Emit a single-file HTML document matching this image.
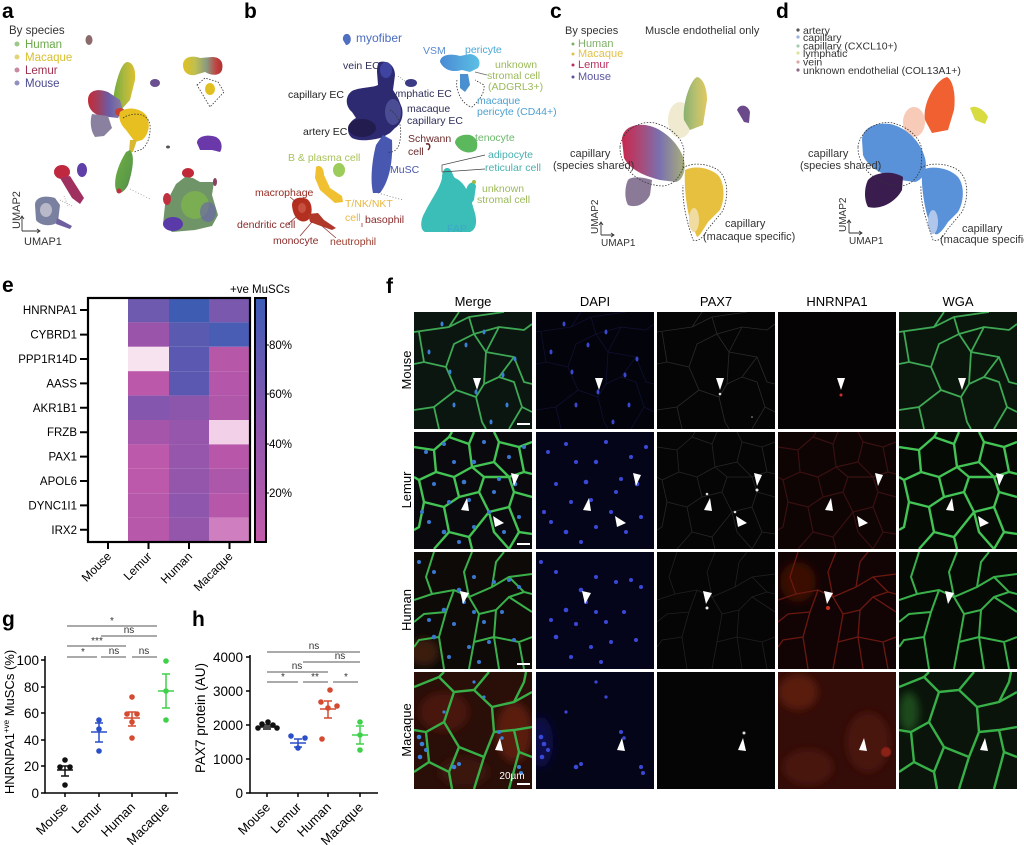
<!DOCTYPE html>
<html><head><meta charset="utf-8">
<style>
html,body{margin:0;padding:0;background:#fff;}
svg{display:block;font-family:"Liberation Sans",Arial,sans-serif;}
</style></head><body>
<svg width="1024" height="845" viewBox="0 0 1024 845" xmlns="http://www.w3.org/2000/svg">
<defs>
<linearGradient id="gArm" x1="0" x2="1" y1="0" y2="0"><stop offset="0" stop-color="#6aa83a"/><stop offset="0.5" stop-color="#a8b840"/><stop offset="1" stop-color="#dcc030"/></linearGradient>
<linearGradient id="gLob" x1="0" x2="1" y1="0" y2="0"><stop offset="0" stop-color="#c42a38"/><stop offset="0.3" stop-color="#a04060"/><stop offset="0.6" stop-color="#6a5ca8"/><stop offset="1" stop-color="#8a80a0"/></linearGradient>
<linearGradient id="gTR" x1="0" x2="1" y1="0" y2="0"><stop offset="0" stop-color="#e0c020"/><stop offset="0.3" stop-color="#c0c050"/><stop offset="0.6" stop-color="#8a9a80"/><stop offset="0.85" stop-color="#c04040"/><stop offset="1" stop-color="#b03030"/></linearGradient>
<linearGradient id="gLow" x1="0" x2="1" y1="0" y2="1"><stop offset="0" stop-color="#70b040"/><stop offset="0.7" stop-color="#5a9a48"/><stop offset="1" stop-color="#7a3a70"/></linearGradient>
<linearGradient id="gVSM" x1="0" x2="1" y1="0" y2="0"><stop offset="0" stop-color="#4a8ad4"/><stop offset="1" stop-color="#5cc0e4"/></linearGradient>
<linearGradient id="gCarm" x1="0" x2="1" y1="0" y2="0"><stop offset="0" stop-color="#88b070"/><stop offset="0.5" stop-color="#b8c070"/><stop offset="1" stop-color="#e0c860"/></linearGradient>
<linearGradient id="gCsh" x1="0" x2="1" y1="0" y2="0"><stop offset="0" stop-color="#c8284e"/><stop offset="0.3" stop-color="#a84a78"/><stop offset="0.6" stop-color="#7a70b0"/><stop offset="1" stop-color="#a8b078"/></linearGradient>
<linearGradient id="gCbar" x1="0" x2="0" y1="0" y2="1"><stop offset="0" stop-color="#3b5cb6"/><stop offset="0.5" stop-color="#8a56ad"/><stop offset="1" stop-color="#c25aa9"/></linearGradient>
<clipPath id="pc"><rect x="0" y="0" width="118" height="117"/></clipPath>
<filter id="bl" x="-50%" y="-50%" width="200%" height="200%"><feGaussianBlur stdDeviation="4"/></filter>
<filter id="bl1"><feGaussianBlur stdDeviation="0.6"/></filter>

<!-- networks -->
<path id="nM" fill="none" d="M0,20 L35,15 L45,0 M35,15 L55,5 L90,0 M55,5 L60,22 L85,15 L110,18 L118,12 M60,22 L40,32 L32,55 L42,78 L62,85 L70,72 L72,40 L60,22 M72,40 L85,15 M72,40 L100,45 L110,70 L118,72 M70,72 L85,65 L100,70 L108,95 L95,117 M62,85 L68,110 L72,117 M85,65 L100,45 M42,78 L20,95 L0,98 M32,55 L10,50 L0,52 M20,95 L25,117 M108,95 L118,100 M10,50 L5,20"/>
<path id="nL" fill="none" d="M0,15 L20,18 L35,5 L38,0 M20,18 L22,40 L5,48 L0,45 M35,5 L55,12 L60,0 M55,12 L58,35 L40,45 L22,40 M58,35 L80,30 L85,10 L80,0 M85,10 L105,15 L118,10 M80,30 L95,45 L110,40 L118,42 M105,15 L110,40 M40,45 L45,65 L30,75 L10,70 L5,48 M45,65 L65,60 L70,45 L58,35 M70,45 L95,45 M65,60 L75,80 L95,75 L100,60 L95,45 M100,60 L118,65 M10,70 L5,95 L0,98 M30,75 L35,100 L20,117 M35,100 L55,105 L75,80 M55,105 L58,117 M95,75 L105,100 L118,102 M105,100 L95,117 M75,80 L80,100 L95,117"/>
<path id="nH" fill="none" d="M0,48 L18,42 L40,38 L55,45 L78,35 L95,25 L118,22 M18,42 L12,25 L20,0 M55,45 L50,20 L58,0 M78,35 L82,10 L90,0 M95,25 L110,40 L118,42 M40,38 L32,60 L25,85 L30,117 M55,45 L65,62 L60,90 L55,117 M32,60 L10,62 L0,70 M65,62 L82,58 L95,45 L110,40 M82,58 L80,85 L85,117 M95,45 L118,60 M80,85 L105,90 L118,85 M25,85 L5,88 L0,95 M60,90 L80,85 M105,90 L110,117"/>
<path id="nQ" fill="none" d="M0,15 L25,5 L30,0 M25,5 L40,20 L60,18 L75,0 M60,18 L78,35 L100,30 L118,20 M100,30 L110,10 L112,0 M40,20 L30,50 L12,60 L0,58 M78,35 L80,60 L70,85 L60,117 M30,50 L45,75 L70,85 M80,60 L100,58 L118,55 M100,58 L105,80 L95,117 M12,60 L15,90 L0,100 M15,90 L35,100 L45,75 M35,100 L38,117 M105,80 L118,85"/>
<!-- nuclei -->
<g id="dM"><ellipse cx="28" cy="12" rx="1.5" ry="2.5"/><ellipse cx="52" cy="33" rx="1.5" ry="2.5"/><ellipse cx="36" cy="60" rx="1.5" ry="2.5"/><ellipse cx="89" cy="63" rx="1.5" ry="2.5"/><ellipse cx="62" cy="80" rx="1.5" ry="2.5"/><ellipse cx="40" cy="93" rx="1.5" ry="2.5"/><ellipse cx="93" cy="93" rx="1.5" ry="2.5"/><ellipse cx="77" cy="110" rx="1.5" ry="2.5"/><ellipse cx="101" cy="47" rx="1.5" ry="2.5"/><ellipse cx="15" cy="40" rx="1.5" ry="2.5"/><ellipse cx="70" cy="20" rx="1.5" ry="2.5"/></g>
<g id="dL"><circle cx="12" cy="20" r="2"/><circle cx="30" cy="12" r="2"/><circle cx="60" cy="30" r="2.2"/><circle cx="95" cy="25" r="2"/><circle cx="20" cy="52" r="2"/><circle cx="50" cy="50" r="2.3"/><circle cx="85" cy="47" r="2"/><circle cx="101" cy="52" r="2.3"/><circle cx="35" cy="70" r="2"/><circle cx="55" cy="68" r="2"/><circle cx="75" cy="80" r="2"/><circle cx="15" cy="90" r="2"/><circle cx="30" cy="100" r="2.3"/><circle cx="60" cy="95" r="2"/><circle cx="90" cy="100" r="2"/><circle cx="105" cy="85" r="2"/><circle cx="45" cy="110" r="2"/><circle cx="80" cy="60" r="2"/><circle cx="70" cy="10" r="2"/><circle cx="110" cy="15" r="2"/><circle cx="8" cy="80" r="2"/><circle cx="40" cy="30" r="2"/></g>
<g id="dH"><circle cx="5" cy="10" r="2"/><circle cx="20" cy="20" r="2"/><circle cx="45" cy="38" r="2.3"/><circle cx="60" cy="25" r="2"/><circle cx="80" cy="30" r="2"/><circle cx="95" cy="28" r="2"/><circle cx="105" cy="35" r="2"/><circle cx="30" cy="58" r="2.3"/><circle cx="50" cy="50" r="2"/><circle cx="15" cy="68" r="2"/><circle cx="40" cy="72" r="2"/><circle cx="70" cy="70" r="2"/><circle cx="20" cy="85" r="2.3"/><circle cx="55" cy="95" r="2"/><circle cx="75" cy="90" r="2"/><circle cx="100" cy="88" r="2"/><circle cx="35" cy="105" r="2"/><circle cx="65" cy="110" r="2"/><circle cx="60" cy="60" r="2"/><circle cx="88" cy="60" r="2"/></g>
<g id="dQ"><circle cx="5" cy="65" r="2.3"/><circle cx="8" cy="72" r="2.3"/><circle cx="12" cy="78" r="2"/><circle cx="6" cy="85" r="2.3"/><circle cx="40" cy="95" r="2.3"/><circle cx="45" cy="92" r="2"/><circle cx="85" cy="60" r="2"/><circle cx="88" cy="66" r="1.8"/><circle cx="105" cy="95" r="2"/><circle cx="107" cy="101" r="2"/><circle cx="70" cy="25" r="1.6"/><circle cx="30" cy="40" r="1.6"/><circle cx="60" cy="10" r="1.6"/></g>
<!-- arrows -->
<g id="aM"><polygon points="59,66 67,66 63,78"/></g>
<g id="aL"><polygon points="97,41 105,43 100,54"/><polygon points="47,78 55,79 53,66"/><polygon points="79,84 81,95 90,91"/></g>
<g id="aH"><polygon points="46,39 55,41 49,52"/></g>
<g id="aQ"><polygon points="81,78 89,79 86,66"/></g>
</defs>

<rect width="1024" height="845" fill="#fff"/>

<!-- panel letters -->
<g font-weight="bold" font-size="21" fill="#000">
<text x="2" y="18">a</text><text x="244" y="18">b</text><text x="550" y="18">c</text><text x="776" y="18">d</text>
<text x="2" y="292">e</text><text x="386" y="293">f</text><text x="2" y="626">g</text><text x="192" y="626">h</text>
</g>

<!-- ===== PANEL A ===== -->
<g font-size="11.5">
<text x="9" y="34" fill="#333">By species</text>
<circle cx="17" cy="44" r="2.5" fill="#9cc88a"/><text x="25" y="48" fill="#6aaa4a">Human</text>
<circle cx="17" cy="57" r="2.5" fill="#e2d47a"/><text x="25" y="61" fill="#d8c030">Macaque</text>
<circle cx="17" cy="70" r="2.5" fill="#c88aa0"/><text x="25" y="74" fill="#a03050">Lemur</text>
<circle cx="17" cy="83" r="2.5" fill="#9090c0"/><text x="25" y="87" fill="#4a4a90">Mouse</text>
</g>
<ellipse cx="89" cy="40" rx="3.5" ry="5" fill="#8a6a6a"/>
<path d="M127,62 C133,62 136,70 135,80 L130,100 L121,110 L112,105 L115,88 C118,75 122,63 127,62 Z" fill="url(#gArm)"/>
<path d="M88,100 C88,90 98,88 108,92 L120,100 L123,110 L118,118 L100,116 C92,113 88,108 88,100 Z" fill="url(#gLob)"/>
<path d="M92,114 L108,116 L112,128 L104,136 L95,137 C90,130 90,120 92,114 Z" fill="#8a80a0"/>
<ellipse cx="120" cy="112" rx="5" ry="4" fill="#c84030"/>
<path d="M120,112 C128,106 140,108 146,115 C151,123 149,135 142,140 L135,142 L126,130 C120,124 118,117 120,112 Z" fill="#e8bf20"/>
<path d="M130,140 L137,140 L133,152 L129,152 Z" fill="#d8b830"/>
<path d="M130,150 C135,155 133,170 128,185 C124,193 118,195 116,190 C113,180 118,165 126,152 Z" fill="url(#gLow)"/>
<circle cx="119" cy="191" r="2.5" fill="#c03040"/>
<path d="M123,118 C132,112 148,112 150,125 C151,138 146,148 140,150 L134,152" fill="none" stroke="#333" stroke-width="0.8" stroke-dasharray="1.5,1.5"/>
<path d="M130,189 L150,199" stroke="#999" stroke-width="0.8" stroke-dasharray="1,2"/>
<ellipse cx="155" cy="83" rx="5" ry="4" fill="#6a5090"/>
<path d="M183,65 C183,57 192,55 200,58 L212,57 C220,57 224,62 222,70 C220,76 212,76 205,72 L195,75 C188,76 183,72 183,65 Z" fill="url(#gTR)"/>
<path d="M197,85 L205,78 L218,82 L224,92 L210,107 Z" fill="none" stroke="#333" stroke-width="0.8" stroke-dasharray="1.5,1.5"/>
<ellipse cx="210" cy="89" rx="5" ry="6" fill="#e0c020"/>
<path d="M197,143 C197,136 208,134 216,137 C222,140 223,148 220,152 L212,150 L200,150 Z" fill="#6a38a8"/>
<ellipse cx="168" cy="147" rx="2" ry="1.5" fill="#555"/>
<ellipse cx="188" cy="173" rx="6" ry="5" fill="#c02838"/>
<path d="M176,184 L185,177 L193,178 L200,182 L214,182 L212,195 L218,215 L212,226 L195,230 L172,232 L163,224 L165,205 Z" fill="#6f9468"/>
<ellipse cx="195" cy="205" rx="14" ry="14" fill="#80b848" opacity="0.7"/>
<ellipse cx="208" cy="212" rx="8" ry="10" fill="#6a60b0" opacity="0.6"/>
<ellipse cx="173" cy="224" rx="10" ry="7" fill="#5a3aa8"/>
<ellipse cx="167" cy="199" rx="4" ry="6" fill="#c03040"/>
<ellipse cx="215" cy="182" rx="2" ry="4" fill="#8a4060"/>
<ellipse cx="62" cy="172" rx="8" ry="7" fill="#c02840"/>
<path d="M60,178 L70,176 L84,198 L80,204 L72,198 Z" fill="#a03060"/>
<ellipse cx="82" cy="170" rx="5" ry="7" fill="#6040a8"/>
<path d="M35,205 C35,197 45,195 55,198 L60,205 L58,222 C52,227 40,226 36,220 Z" fill="#7a80a0"/>
<ellipse cx="46" cy="210" rx="6" ry="7" fill="#b8b8c8"/>
<path d="M57,218 L72,226 L70,229 L56,224 Z" fill="#7060a0"/>
<path d="M60,200 L72,206 M64,196 L68,206" stroke="#888" stroke-width="0.7" stroke-dasharray="1,1.5"/>
<!-- umap axes a -->
<g stroke="#333" stroke-width="0.9" fill="none"><path d="M22,231 L22,216 M20,219 L22,216 L24,219 M22,231 L40,231 M37,229 L40,231 L37,233"/></g>
<text transform="translate(20,229) rotate(-90)" font-size="11" fill="#333">UMAP2</text>
<text x="24" y="245" font-size="11" fill="#333">UMAP1</text>

<!-- ===== PANEL B ===== -->
<path d="M343,40 C342,34 348,32 350,36 C352,40 350,45 346,45 Z" fill="#4f6fc0"/>
<path d="M380,62 C388,60 395,66 395,75 L393,90 L398,98 L402,108 C404,118 400,125 395,128 L390,133 L383,137 C375,140 360,142 352,138 C345,132 348,122 356,118 L352,112 C345,106 345,96 352,91 C360,87 372,88 378,85 L377,72 C377,66 378,62 380,62 Z" fill="#2e2a72"/>
<ellipse cx="386" cy="70" rx="6" ry="8" fill="#3e44a0"/>
<ellipse cx="362" cy="128" rx="14" ry="9" fill="#231c4f"/>
<ellipse cx="393" cy="112" rx="8" ry="13" fill="#4a4c94"/>
<path d="M383,135 L392,140 C393,160 390,180 380,193 L373,193 C370,180 372,160 376,145 Z" fill="#4858b0"/>
<path d="M378,193 L403,200" stroke="#777" stroke-width="0.8" stroke-dasharray="1,2"/>
<ellipse cx="411" cy="83" rx="6" ry="4" fill="#3a3a85"/>
<path d="M398,76 L406,82" stroke="#777" stroke-width="0.7" stroke-dasharray="1,1.5"/>
<path d="M390,110 C400,115 403,130 399,145 C397,150 393,153 388,152" fill="none" stroke="#333" stroke-width="0.8" stroke-dasharray="1.5,1.5"/>
<path d="M426,144 C430,143 431,147 428,150" stroke="#6d2a2a" stroke-width="1.5" fill="none"/>
<path d="M440,62 C440,55 450,53 460,56 L470,54 C478,55 482,62 478,68 L470,72 L462,70 C455,72 445,72 440,62 Z" fill="url(#gVSM)"/>
<path d="M460,74 L468,74 L470,85 L465,92 L460,88 Z" fill="#4a90d0"/>
<path d="M457,80 C455,90 462,105 472,107 C480,100 485,92 484,85 L475,80" fill="none" stroke="#333" stroke-width="0.8" stroke-dasharray="1.5,1.5"/>
<path d="M475,72 L487,75" stroke="#666" stroke-width="0.7"/>
<path d="M455,143 C455,137 462,134 470,135 C477,137 479,145 476,150 C472,154 460,154 455,143 Z" fill="#5cb85c"/>
<path d="M447,168 C452,168 452,175 455,178 C465,182 470,195 474,210 C478,222 476,230 470,232 L425,232 C420,230 420,220 425,212 C432,198 440,188 442,178 C442,172 444,168 447,168 Z" fill="#3bbdb8"/>
<path d="M466,190 C468,182 474,180 476,186 L474,200 L470,205 Z" fill="#3bbdb8"/>
<circle cx="474" cy="182" r="2" fill="#a0b840"/>
<path d="M442,172 L442,165 L485,155 M442,172 L485,169" stroke="#444" stroke-width="0.7" fill="none"/>
<ellipse cx="339" cy="170" rx="6" ry="7" fill="#9ccc5a"/>
<path d="M316,167 C320,164 324,168 324,175 L330,188 L342,196 L343,202 L335,203 L320,190 L315,178 Z" fill="#f0c030"/>
<path d="M292,205 C292,198 300,196 307,199 C313,203 313,215 308,220 C302,224 293,220 292,205 Z" fill="#b33020"/>
<ellipse cx="302" cy="208" rx="4" ry="5" fill="#d06050" opacity="0.7"/>
<path d="M308,214 L318,213 L324,220 L336,228 L332,230 L318,225 L310,222 Z" fill="#b03828"/>
<g stroke="#8a2a2a" stroke-width="0.7" fill="none"><path d="M290,197 L296,202 M288,224 L296,217 M300,236 L312,222 M336,238 L322,226 M362,223 L362,227"/></g>
<g font-size="10.5">
<text x="356" y="42" font-size="12" fill="#4a6cc0">myofiber</text>
<text x="423" y="54" fill="#5a8cd0">VSM</text>
<text x="465" y="53" fill="#4aa8d8">pericyte</text>
<text x="495" y="68" fill="#9cba5a">unknown</text>
<text x="487" y="79" fill="#9cba5a">stromal cell</text>
<text x="488" y="90" fill="#9cba5a">(ADGRL3+)</text>
<text x="477" y="104" fill="#4da0d0">macaque</text>
<text x="477" y="115" fill="#4da0d0">pericyte (CD44+)</text>
<text x="343" y="69" fill="#2e2e5a">vein EC</text>
<text x="288" y="98" fill="#222">capillary EC</text>
<text x="390" y="97" fill="#2e2e5a">lymphatic EC</text>
<text x="407" y="112" fill="#2e2e5a">macaque</text>
<text x="407" y="124" fill="#2e2e5a">capillary EC</text>
<text x="303" y="135" fill="#222">artery EC</text>
<text x="408" y="142" fill="#6d2a2a">Schwann</text>
<text x="408" y="155" fill="#6d2a2a">cell</text>
<text x="475" y="141" fill="#6cb86c">tenocyte</text>
<text x="488" y="158" fill="#4ab0b0">adipocyte</text>
<text x="485" y="171" fill="#4ab0b0">reticular cell</text>
<text x="482" y="192" fill="#9cba5a">unknown</text>
<text x="477" y="203" fill="#9cba5a">stromal cell</text>
<text x="447" y="232" fill="#3ea8c8">FAP</text>
<text x="390" y="173" fill="#4a55a8">MuSC</text>
<text x="288" y="161" fill="#a8c25a">B &amp; plasma cell</text>
<text x="345" y="207" fill="#e8b840">T/NK/NKT</text>
<text x="345" y="221" fill="#e8b840">cell</text>
<text x="365" y="223" fill="#8a2a2a">basophil</text>
<text x="255" y="196" fill="#962a20">macrophage</text>
<text x="237" y="228" fill="#8a2a2a">dendritic cell</text>
<text x="273" y="244" fill="#8a2a2a">monocyte</text>
<text x="330" y="245" fill="#9a3a2a">neutrophil</text>
</g>

<!-- ===== PANEL C ===== -->
<g font-size="11">
<text x="565" y="34" fill="#333">By species</text>
<text x="645" y="34" fill="#333">Muscle endothelial only</text>
<circle cx="573" cy="44" r="1.5" fill="#7fb069"/><text x="578" y="47" fill="#7fb069">Human</text>
<circle cx="573" cy="54" r="1.5" fill="#e0c24a"/><text x="578" y="57" fill="#e0c24a">Macaque</text>
<circle cx="573" cy="65" r="1.5" fill="#b83060"/><text x="578" y="68" fill="#b83060">Lemur</text>
<circle cx="573" cy="77" r="1.5" fill="#5a55a0"/><text x="578" y="80" fill="#5a55a0">Mouse</text>
</g>
<ellipse cx="680" cy="120" rx="12" ry="18" fill="#e6dcb0" opacity="0.6"/>
<path d="M697,77 C703,78 707,88 707,100 L703,125 L690,130 L684,120 C682,105 690,80 697,77 Z" fill="url(#gCarm)"/>
<path d="M622,140 C622,128 635,122 650,126 C665,130 680,145 684,160 C686,170 683,180 676,182 L660,180 C645,176 630,170 624,158 Z" fill="url(#gCsh)"/>
<path d="M628,180 C630,177 640,176 652,180 L650,195 C645,205 635,208 628,205 C624,198 625,186 628,180 Z" fill="#8a7a98"/>
<path d="M685,170 C695,165 710,168 718,175 C725,183 725,200 720,210 L708,222 C703,230 699,237 697,237 L690,220 C686,205 684,185 685,170 Z" fill="#e8c040"/>
<ellipse cx="694" cy="220" rx="5" ry="12" fill="#f0dca0"/>
<path d="M737,110 C740,103 748,105 750,112 L749,123 L744,122 Z" fill="#6a4a8a"/>
<path d="M620,147 C622,130 640,120 655,123 C670,127 682,137 684,150 L683,167 C680,178 672,186 662,186 C645,185 630,176 624,163 C621,158 620,152 620,147 Z" fill="none" stroke="#333" stroke-width="0.8" stroke-dasharray="1.5,1.5"/>
<path d="M683,168 C690,163 705,162 718,170 C730,180 728,200 722,212 L707,230 C703,238 698,242 693,240 C688,225 682,205 683,185" fill="none" stroke="#333" stroke-width="0.8" stroke-dasharray="1.5,1.5"/>
<g font-size="11" fill="#333">
<text x="570" y="157">capillary</text><text x="553" y="169">(species shared)</text>
<text x="725" y="227">capillary</text><text x="703" y="240">(macaque specific)</text>
</g>
<g stroke="#333" stroke-width="0.9" fill="none"><path d="M601,235 L601,222 M599,225 L601,222 L603,225 M601,235 L614,235 M611,233 L614,235 L611,237"/></g>
<text transform="translate(598,234) rotate(-90)" font-size="10" fill="#333">UMAP2</text>
<text x="601" y="246" font-size="10" fill="#333">UMAP1</text>

<!-- ===== PANEL D ===== -->
<g font-size="10.5" fill="#333">
<circle cx="798" cy="30" r="1.6" fill="#555"/><text x="803" y="34">artery</text>
<circle cx="798" cy="37" r="1.6" fill="#9db2dd"/><text x="803" y="41">capillary</text>
<circle cx="798" cy="46" r="1.6" fill="#a5cdb0"/><text x="803" y="49.5">capillary (CXCL10+)</text>
<circle cx="798" cy="53" r="1.6" fill="#dde49a"/><text x="803" y="57">lymphatic</text>
<circle cx="798" cy="62" r="1.6" fill="#dcaaa5"/><text x="803" y="65.5">vein</text>
<circle cx="798" cy="70" r="1.6" fill="#8d6a85"/><text x="803" y="74">unknown endothelial (COL13A1+)</text>
</g>
<ellipse cx="914" cy="122" rx="11" ry="15" fill="#f2a888" opacity="0.6"/>
<path d="M947,77 C953,80 956,95 954,110 L948,130 L932,133 L925,120 C922,105 935,80 947,77 Z" fill="#f06030"/>
<path d="M862,140 C862,128 875,122 890,124 C905,127 920,140 925,158 C928,170 923,180 915,182 L900,180 C885,176 868,168 863,155 Z" fill="#5a92da"/>
<path d="M868,180 C875,172 892,170 903,177 L902,190 C895,203 880,210 868,207 C864,200 864,188 868,180 Z" fill="#3a1d4e"/>
<path d="M922,170 C932,165 950,168 958,177 C965,186 964,202 958,212 L948,222 C943,230 938,236 935,234 L928,218 C924,205 921,185 922,170 Z" fill="#5a92da"/>
<ellipse cx="933" cy="222" rx="5" ry="12" fill="#b0c6ea"/>
<path d="M970,108 C975,104 985,110 988,117 L985,124 L975,120 Z" fill="#d8dc40"/>
<path d="M858,147 C860,130 878,120 893,123 C908,127 920,137 922,150 L921,167 C918,178 910,186 900,186 C883,185 868,176 862,163 C859,158 858,152 858,147 Z" fill="none" stroke="#333" stroke-width="0.8" stroke-dasharray="1.5,1.5"/>
<path d="M921,168 C928,163 945,162 958,170 C970,180 968,200 962,212 L947,230 C943,238 938,242 933,240 C928,225 920,205 921,185" fill="none" stroke="#333" stroke-width="0.8" stroke-dasharray="1.5,1.5"/>
<g font-size="11" fill="#333">
<text x="808" y="157">capillary</text><text x="800" y="169">(species shared)</text>
<text x="962" y="232">capillary</text><text x="940" y="243">(macaque specific)</text>
</g>
<g stroke="#333" stroke-width="0.9" fill="none"><path d="M849,233 L849,220 M847,223 L849,220 L851,223 M849,233 L862,233 M859,231 L862,233 L859,235"/></g>
<text transform="translate(846,232) rotate(-90)" font-size="10" fill="#333">UMAP2</text>
<text x="849" y="244" font-size="10" fill="#333">UMAP1</text>

<!-- ===== PANEL E ===== -->
<g>
<rect x="88" y="298" width="40" height="244" fill="#fff"/>
<!-- Lemur col -->
<rect x="128" y="298" width="41" height="24.4" fill="#6e5aae"/>
<rect x="128" y="322.4" width="41" height="24.4" fill="#9a55aa"/>
<rect x="128" y="346.8" width="41" height="24.4" fill="#f7e2f0"/>
<rect x="128" y="371.2" width="41" height="24.4" fill="#bb58aa"/>
<rect x="128" y="395.6" width="41" height="24.4" fill="#8456ad"/>
<rect x="128" y="420" width="41" height="24.4" fill="#a556aa"/>
<rect x="128" y="444.4" width="41" height="24.4" fill="#bc59aa"/>
<rect x="128" y="468.8" width="41" height="24.4" fill="#bc59aa"/>
<rect x="128" y="493.2" width="41" height="24.4" fill="#b858aa"/>
<rect x="128" y="517.6" width="41" height="24.4" fill="#b858aa"/>
<!-- Human col -->
<rect x="169" y="298" width="40" height="24.4" fill="#3f5cb3"/>
<rect x="169" y="322.4" width="40" height="24.4" fill="#5a5ab0"/>
<rect x="169" y="346.8" width="40" height="24.4" fill="#5a58b0"/>
<rect x="169" y="371.2" width="40" height="24.4" fill="#5a58b0"/>
<rect x="169" y="395.6" width="40" height="24.4" fill="#8c56ac"/>
<rect x="169" y="420" width="40" height="24.4" fill="#9556ab"/>
<rect x="169" y="444.4" width="40" height="24.4" fill="#9556ab"/>
<rect x="169" y="468.8" width="40" height="24.4" fill="#9456ab"/>
<rect x="169" y="493.2" width="40" height="24.4" fill="#8e56ac"/>
<rect x="169" y="517.6" width="40" height="24.4" fill="#9356ab"/>
<!-- Macaque col -->
<rect x="209" y="298" width="41" height="24.4" fill="#7a58ad"/>
<rect x="209" y="322.4" width="41" height="24.4" fill="#4a5db5"/>
<rect x="209" y="346.8" width="41" height="24.4" fill="#b657a8"/>
<rect x="209" y="371.2" width="41" height="24.4" fill="#b457aa"/>
<rect x="209" y="395.6" width="41" height="24.4" fill="#b057aa"/>
<rect x="209" y="420" width="41" height="24.4" fill="#f2d0e8"/>
<rect x="209" y="444.4" width="41" height="24.4" fill="#b857aa"/>
<rect x="209" y="468.8" width="41" height="24.4" fill="#ac57aa"/>
<rect x="209" y="493.2" width="41" height="24.4" fill="#b657aa"/>
<rect x="209" y="517.6" width="41" height="24.4" fill="#cf7fbf"/>
<rect x="88" y="298" width="162" height="244" fill="none" stroke="#000" stroke-width="2.2"/>
<rect x="255" y="298" width="11" height="244" fill="url(#gCbar)" stroke="#000" stroke-width="2"/>
<g stroke="#000" stroke-width="2">
<path d="M80,310 H88 M80,334.6 H88 M80,359 H88 M80,383.4 H88 M80,407.8 H88 M80,432.2 H88 M80,456.6 H88 M80,481 H88 M80,505.4 H88 M80,529.8 H88"/>
<path d="M108,542 V549 M148.5,542 V549 M189,542 V549 M229.5,542 V549"/>
</g>
<g stroke="#000" stroke-width="1"><path d="M266,345 H269 M266,394 H269 M266,444 H269 M266,493 H269"/></g>
<g font-size="11.5" fill="#000" text-anchor="end">
<text x="77" y="314">HNRNPA1</text><text x="77" y="338.6">CYBRD1</text><text x="77" y="363">PPP1R14D</text><text x="77" y="387.4">AASS</text><text x="77" y="411.8">AKR1B1</text><text x="77" y="436.2">FRZB</text><text x="77" y="460.6">PAX1</text><text x="77" y="485">APOL6</text><text x="77" y="509.4">DYNC1I1</text><text x="77" y="533.8">IRX2</text>
</g>
<g font-size="11.5" fill="#000">
<text x="269" y="349">80%</text><text x="269" y="398">60%</text><text x="269" y="448">40%</text><text x="269" y="497">20%</text>
<text x="230" y="293">+ve MuSCs</text>
</g>
<g font-size="12" fill="#000" text-anchor="end">
<text transform="translate(112,557) rotate(-45)">Mouse</text>
<text transform="translate(152.5,557) rotate(-45)">Lemur</text>
<text transform="translate(193,557) rotate(-45)">Human</text>
<text transform="translate(233.5,557) rotate(-45)">Macaque</text>
</g>
</g>

<!-- ===== PANEL F ===== -->
<g font-size="13" fill="#000" text-anchor="middle">
<text x="473" y="306">Merge</text><text x="595" y="306">DAPI</text><text x="716" y="306">PAX7</text><text x="837" y="306">HNRNPA1</text><text x="958" y="306">WGA</text>
<text transform="translate(411,370) rotate(-90)">Mouse</text>
<text transform="translate(411,490) rotate(-90)">Lemur</text>
<text transform="translate(411,610) rotate(-90)">Human</text>
<text transform="translate(411,730) rotate(-90)">Macaque</text>
</g>

<!-- Row Mouse -->
<g transform="translate(414,312)" clip-path="url(#pc)"><rect width="118" height="117" fill="#0b1610"/><use href="#nM" stroke="#3ea854" stroke-width="1.8"/><use href="#dM" fill="#3a80d8"/><use href="#aM" fill="#fff"/><rect x="103" y="111" width="13" height="2" fill="#fff"/></g>
<g transform="translate(536,312)" clip-path="url(#pc)"><rect width="118" height="117" fill="#03030c"/><use href="#nM" stroke="#101030" stroke-width="0.8"/><use href="#dM" fill="#3a48d0"/><use href="#aM" fill="#fff"/></g>
<g transform="translate(657,312)" clip-path="url(#pc)"><rect width="118" height="117" fill="#050505"/><use href="#nM" stroke="#2a2a2a" stroke-width="0.8"/><circle cx="63" cy="82" r="1.3" fill="#ddd"/><circle cx="95" cy="105" r="0.8" fill="#aaa"/><use href="#aM" fill="#fff"/></g>
<g transform="translate(778,312)" clip-path="url(#pc)"><rect width="118" height="117" fill="#050303"/><circle cx="63" cy="83" r="1.5" fill="#d03030"/><use href="#aM" fill="#fff"/></g>
<g transform="translate(899,312)" clip-path="url(#pc)"><rect width="119" height="117" fill="#0a160c"/><use href="#nM" stroke="#3ea854" stroke-width="1.8"/><use href="#aM" fill="#fff"/></g>

<!-- Row Lemur -->
<g transform="translate(414,432)" clip-path="url(#pc)"><rect width="118" height="117" fill="#0a0a0e"/><use href="#nL" stroke="#44c454" stroke-width="2.4"/><use href="#dL" fill="#3a78d0"/><use href="#aL" fill="#fff"/><rect x="103" y="111" width="13" height="2" fill="#fff"/></g>
<g transform="translate(536,432)" clip-path="url(#pc)"><rect width="118" height="117" fill="#05051a"/><use href="#dL" fill="#3a48d8"/><use href="#aL" fill="#fff"/></g>
<g transform="translate(657,432)" clip-path="url(#pc)"><rect width="118" height="117" fill="#050505"/><use href="#nL" stroke="#262626" stroke-width="0.8"/><circle cx="100" cy="58" r="1.5" fill="#eee"/><circle cx="50" cy="62" r="1.3" fill="#ddd"/><circle cx="78" cy="80" r="1.3" fill="#ddd"/><use href="#aL" fill="#fff"/></g>
<g transform="translate(778,432)" clip-path="url(#pc)"><rect width="118" height="117" fill="#0e0404"/><use href="#nL" stroke="#3a1010" stroke-width="1.2"/><use href="#aL" fill="#fff"/></g>
<g transform="translate(899,432)" clip-path="url(#pc)"><rect width="119" height="117" fill="#050a05"/><use href="#nL" stroke="#44c454" stroke-width="2.4"/><use href="#aL" fill="#fff"/></g>

<!-- Row Human -->
<g transform="translate(414,552)" clip-path="url(#pc)"><rect width="118" height="117" fill="#0e0a08"/><ellipse cx="10" cy="100" rx="15" ry="14" fill="#3a1a08" filter="url(#bl)"/><use href="#nH" stroke="#3ab04a" stroke-width="2"/><use href="#dH" fill="#3a78d0"/><use href="#aH" fill="#fff"/><rect x="103" y="111" width="13" height="2" fill="#fff"/></g>
<g transform="translate(536,552)" clip-path="url(#pc)"><rect width="118" height="117" fill="#04041a"/><use href="#dH" fill="#3a48d8"/><use href="#aH" fill="#fff"/></g>
<g transform="translate(657,552)" clip-path="url(#pc)"><rect width="118" height="117" fill="#050505"/><use href="#nH" stroke="#202020" stroke-width="0.8"/><circle cx="50" cy="56" r="1.5" fill="#eee"/><use href="#aH" fill="#fff"/></g>
<g transform="translate(778,552)" clip-path="url(#pc)"><rect width="118" height="117" fill="#120404"/><ellipse cx="20" cy="30" rx="18" ry="20" fill="#3a0a06" filter="url(#bl)"/><use href="#nH" stroke="#6a1810" stroke-width="1.3"/><circle cx="50" cy="56" r="2" fill="#d03020"/><use href="#aH" fill="#fff"/></g>
<g transform="translate(899,552)" clip-path="url(#pc)"><rect width="119" height="117" fill="#050a05"/><use href="#nH" stroke="#3ab04a" stroke-width="2"/><use href="#aH" fill="#fff"/></g>

<!-- Row Macaque -->
<g transform="translate(414,672)" clip-path="url(#pc)"><rect width="118" height="117" fill="#2a0e08"/><ellipse cx="30" cy="40" rx="25" ry="20" fill="#4a1408" filter="url(#bl)"/><ellipse cx="100" cy="60" rx="18" ry="30" fill="#5a1a0c" filter="url(#bl)"/><ellipse cx="50" cy="100" rx="25" ry="15" fill="#3a1208" filter="url(#bl)"/><use href="#nQ" stroke="#38b048" stroke-width="2.4"/><use href="#dQ" fill="#3a80d8"/><use href="#aQ" fill="#fff"/><text x="98" y="107" font-size="10" fill="#fff" text-anchor="middle">20µm</text><rect x="103" y="111" width="13" height="2" fill="#fff"/></g>
<g transform="translate(536,672)" clip-path="url(#pc)"><rect width="118" height="117" fill="#05051a"/><ellipse cx="5" cy="70" rx="12" ry="25" fill="#10104a" filter="url(#bl)"/><use href="#dQ" fill="#3a48d8"/><use href="#aQ" fill="#fff"/></g>
<g transform="translate(657,672)" clip-path="url(#pc)"><rect width="118" height="117" fill="#050505"/><circle cx="87" cy="61" r="1.5" fill="#ddd"/><use href="#aQ" fill="#fff"/></g>
<g transform="translate(778,672)" clip-path="url(#pc)"><rect width="118" height="117" fill="#340c08"/><ellipse cx="20" cy="20" rx="20" ry="18" fill="#5a1a10" filter="url(#bl)"/><ellipse cx="90" cy="70" rx="22" ry="30" fill="#4a140c" filter="url(#bl)"/><ellipse cx="30" cy="95" rx="25" ry="18" fill="#4a140c" filter="url(#bl)"/><ellipse cx="108" cy="80" rx="5" ry="5" fill="#8a2018" filter="url(#bl1)"/><use href="#aQ" fill="#fff"/></g>
<g transform="translate(899,672)" clip-path="url(#pc)"><rect width="119" height="117" fill="#0a140a"/><ellipse cx="10" cy="40" rx="10" ry="20" fill="#1a4a1a" filter="url(#bl)"/><use href="#nQ" stroke="#38b048" stroke-width="2.4"/><use href="#aQ" fill="#fff"/></g>

<!-- ===== PANEL G ===== -->
<g stroke="#000" stroke-width="1.5" fill="none">
<path d="M45,656 V793 H178"/>
<path d="M41,660 H45 M41,687 H45 M41,713 H45 M41,740 H45 M41,766 H45 M41,793 H45"/>
<path d="M65,793 V797 M99,793 V797 M132,793 V797 M166,793 V797"/>
</g>
<g font-size="13.5" fill="#000" text-anchor="end">
<text x="39" y="665">100</text><text x="39" y="692">80</text><text x="39" y="718">60</text><text x="39" y="745">40</text><text x="39" y="771">20</text><text x="39" y="798">0</text>
</g>
<text transform="translate(14,722) rotate(-90)" font-size="13" text-anchor="middle" fill="#000">HNRNPA1<tspan font-size="8" dy="-5">+ve</tspan><tspan dy="5"> MuSCs (%)</tspan></text>
<g stroke="#555" stroke-width="1">
<path d="M67,626 H157 M101,636 H157 M67,646 H126 M67,657 H97 M101,657 H126 M132,657 H157"/>
</g>
<g font-size="10" fill="#333" text-anchor="middle">
<text x="112" y="624">*</text><text x="129" y="633">ns</text><text x="97" y="644">***</text><text x="83" y="655">*</text><text x="114" y="654">ns</text><text x="144" y="654">ns</text>
</g>
<!-- g data -->
<g fill="#111"><circle cx="65" cy="760" r="2.8"/><circle cx="60" cy="767" r="2.8"/><circle cx="70" cy="767" r="2.8"/><circle cx="65" cy="785" r="2.8"/></g>
<path d="M57,770 H73 M61,766 H69 M61,776 H69 M65,766 V776" stroke="#111" stroke-width="1.5"/>
<g fill="#2a4fc8"><circle cx="99" cy="720" r="2.8"/><circle cx="99" cy="729" r="2.8"/><circle cx="99" cy="751" r="2.8"/></g>
<path d="M91,732 H107 M95,723 H103 M95,742 H103 M99,723 V742" stroke="#2a4fc8" stroke-width="1.5"/>
<g fill="#d64a30"><circle cx="132" cy="697" r="2.8"/><circle cx="127" cy="714" r="2.8"/><circle cx="137" cy="714" r="2.8"/><circle cx="132" cy="722" r="2.8"/><circle cx="132" cy="738" r="2.8"/></g>
<path d="M124,718 H140 M128,712 H136 M128,726 H136 M132,712 V726" stroke="#d64a30" stroke-width="1.5"/>
<g fill="#3fd14a"><circle cx="166" cy="661" r="2.8"/><circle cx="166" cy="691" r="2.8"/><circle cx="166" cy="720" r="2.8"/></g>
<path d="M158,691 H174 M162,674 H170 M162,708 H170 M166,674 V708" stroke="#3fd14a" stroke-width="1.5"/>
<g font-size="13" fill="#000" text-anchor="end">
<text transform="translate(69,808) rotate(-45)">Mouse</text>
<text transform="translate(103,808) rotate(-45)">Lemur</text>
<text transform="translate(136,808) rotate(-45)">Human</text>
<text transform="translate(170,808) rotate(-45)">Macaque</text>
</g>

<!-- ===== PANEL H ===== -->
<g stroke="#000" stroke-width="1.5" fill="none">
<path d="M250,655 V793 H378"/>
<path d="M246,657 H250 M246,691 H250 M246,725 H250 M246,759 H250 M246,793 H250"/>
<path d="M267,793 V797 M298,793 V797 M328,793 V797 M360,793 V797"/>
</g>
<g font-size="13.5" fill="#000" text-anchor="end">
<text x="243" y="662">4000</text><text x="243" y="696">3000</text><text x="243" y="730">2000</text><text x="243" y="764">1000</text><text x="243" y="798">0</text>
</g>
<text transform="translate(205,718) rotate(-90)" font-size="13.5" text-anchor="middle" fill="#000">PAX7 protein (AU)</text>
<g stroke="#555" stroke-width="1">
<path d="M267,652 H360 M303,662 H360 M267,672 H328 M267,682 H298 M303,682 H328 M333,682 H358"/>
</g>
<g font-size="10" fill="#333" text-anchor="middle">
<text x="314" y="649">ns</text><text x="340" y="659">ns</text><text x="297" y="669">ns</text><text x="283" y="680">*</text><text x="315" y="680">**</text><text x="346" y="680">*</text>
</g>
<g fill="#111"><circle cx="262" cy="724" r="2.8"/><circle cx="268" cy="722" r="2.8"/><circle cx="273" cy="725" r="2.8"/><circle cx="258" cy="728" r="2.8"/><circle cx="277" cy="728" r="2.8"/></g>
<path d="M259,727 H275 M263,725 H271 M263,729 H271" stroke="#111" stroke-width="1.5"/>
<g fill="#2a4fc8"><circle cx="291" cy="736" r="2.8"/><circle cx="305" cy="738" r="2.8"/><circle cx="298" cy="748" r="2.8"/></g>
<path d="M290,743 H306 M294,739 H302 M294,747 H302 M298,739 V747" stroke="#2a4fc8" stroke-width="1.5"/>
<g fill="#d64a30"><circle cx="330" cy="690" r="2.8"/><circle cx="321" cy="702" r="2.8"/><circle cx="337" cy="706" r="2.8"/><circle cx="328" cy="708" r="2.8"/><circle cx="322" cy="739" r="2.8"/></g>
<path d="M320,709 H336 M324,701 H332 M324,718 H332 M328,701 V718" stroke="#d64a30" stroke-width="1.5"/>
<g fill="#3fd14a"><circle cx="360" cy="722" r="2.8"/><circle cx="360" cy="735" r="2.8"/><circle cx="360" cy="750" r="2.8"/></g>
<path d="M352,735 H368 M356,726 H364 M356,744 H364 M360,726 V744" stroke="#3fd14a" stroke-width="1.5"/>
<g font-size="13" fill="#000" text-anchor="end">
<text transform="translate(271,808) rotate(-45)">Mouse</text>
<text transform="translate(302,808) rotate(-45)">Lemur</text>
<text transform="translate(332,808) rotate(-45)">Human</text>
<text transform="translate(364,808) rotate(-45)">Macaque</text>
</g>
</svg>
</body></html>
